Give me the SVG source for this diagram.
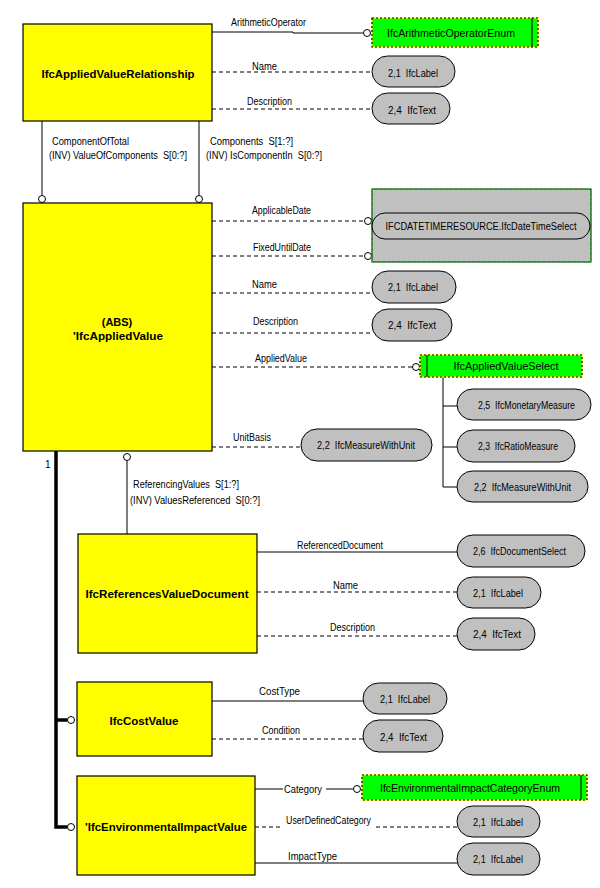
<svg xmlns="http://www.w3.org/2000/svg" width="600" height="888" viewBox="0 0 600 888">
<style>
text{font-family:"Liberation Sans",Arial,sans-serif;font-size:10px;fill:#000;white-space:pre}
.b{font-weight:bold;font-size:11px;text-anchor:middle}
.m{text-anchor:middle}
.ent{fill:#ffff00;stroke:#000;stroke-width:1.2}
.ov{fill:#c0c0c0;stroke:#000;stroke-width:1}
.en{fill:#00ff00;stroke:#ffff00;stroke-width:1.2}
.end{fill:none;stroke:#000;stroke-width:1.2;stroke-dasharray:2,2}
.s{stroke:#000;stroke-width:1;fill:none}
.d{stroke:#000;stroke-width:1;fill:none;stroke-dasharray:4,3}
.t{stroke:#000;stroke-width:3.5;fill:none}
.c{fill:#fff;stroke:#000;stroke-width:1}
</style>
<rect width="600" height="888" fill="#fff"/>
<g id="connectors">
<path class="s" d="M212,32 H293 V33 H363"/>
<circle class="c" cx="367" cy="33" r="3.5"/>
<line class="d" x1="212" y1="72" x2="372" y2="72"/>
<line class="d" x1="212" y1="109" x2="372" y2="109"/>
<line class="s" x1="42" y1="121" x2="42" y2="195.5"/>
<circle class="c" cx="42" cy="199" r="3.5"/>
<line class="s" x1="199" y1="121" x2="199" y2="195.5"/>
<circle class="c" cx="199" cy="199" r="3.5"/>
<line class="d" x1="212" y1="221" x2="364" y2="221"/>
<circle class="c" cx="368" cy="221" r="3.5"/>
<line class="d" x1="212" y1="256" x2="364" y2="256"/>
<circle class="c" cx="368" cy="256" r="3.5"/>
<line class="d" x1="212" y1="293" x2="372" y2="293"/>
<line class="d" x1="212" y1="333" x2="372" y2="333"/>
<line class="d" x1="212" y1="367" x2="412" y2="367"/>
<circle class="c" cx="416" cy="367" r="3.5"/>
<path class="s" d="M443,377 V487 H457 M443,406 H457 M443,447 H457"/>
<line class="d" x1="212" y1="447" x2="301" y2="447"/>
<line class="s" x1="127" y1="460.5" x2="127" y2="534"/>
<circle class="c" cx="127" cy="457" r="3.5"/>
<path class="t" d="M56,451 V827 H67.5 M56,720 H67.5"/>
<circle class="c" cx="71" cy="720" r="3.5"/>
<circle class="c" cx="71" cy="827" r="3.5"/>
<line class="s" x1="257" y1="552" x2="457" y2="552"/>
<line class="d" x1="257" y1="592" x2="457" y2="592"/>
<line class="d" x1="257" y1="636" x2="457" y2="636"/>
<line class="s" x1="212" y1="701" x2="363" y2="701"/>
<line class="d" x1="212" y1="739" x2="363" y2="739"/>
<path class="s" d="M255,789 H283 M326,789 H353.5"/>
<circle class="c" cx="357" cy="789" r="3.5"/>
<path class="d" d="M255,827 H283 M376,827 H457"/>
<line class="s" x1="255" y1="863" x2="457" y2="863"/>
<text x="231" y="26" textLength="75" lengthAdjust="spacingAndGlyphs">ArithmeticOperator</text>
<text x="252" y="70" textLength="25" lengthAdjust="spacingAndGlyphs">Name</text>
<text x="247" y="105" textLength="45" lengthAdjust="spacingAndGlyphs">Description</text>
<text x="52" y="145" textLength="77" lengthAdjust="spacingAndGlyphs">ComponentOfTotal</text>
<text x="49" y="159" textLength="138" lengthAdjust="spacingAndGlyphs">(INV) ValueOfComponents  S[0:?]</text>
<text x="210" y="145" textLength="83" lengthAdjust="spacingAndGlyphs">Components  S[1:?]</text>
<text x="206" y="159" textLength="116" lengthAdjust="spacingAndGlyphs">(INV) IsComponentIn  S[0:?]</text>
<text x="252" y="214" textLength="59" lengthAdjust="spacingAndGlyphs">ApplicableDate</text>
<text x="253" y="251" textLength="58" lengthAdjust="spacingAndGlyphs">FixedUntilDate</text>
<text x="252" y="288" textLength="25" lengthAdjust="spacingAndGlyphs">Name</text>
<text x="253" y="325" textLength="45" lengthAdjust="spacingAndGlyphs">Description</text>
<text x="255" y="362" textLength="52" lengthAdjust="spacingAndGlyphs">AppliedValue</text>
<text x="233" y="441" textLength="38" lengthAdjust="spacingAndGlyphs">UnitBasis</text>
<text x="45" y="468">1</text>
<text x="133" y="488" textLength="106" lengthAdjust="spacingAndGlyphs">ReferencingValues  S[1:?]</text>
<text x="130" y="504" textLength="130" lengthAdjust="spacingAndGlyphs">(INV) ValuesReferenced  S[0:?]</text>
<text x="297" y="549" textLength="86" lengthAdjust="spacingAndGlyphs">ReferencedDocument</text>
<text x="333" y="589" textLength="25" lengthAdjust="spacingAndGlyphs">Name</text>
<text x="330" y="631" textLength="45" lengthAdjust="spacingAndGlyphs">Description</text>
<text x="259" y="695" textLength="41" lengthAdjust="spacingAndGlyphs">CostType</text>
<text x="262" y="734" textLength="38" lengthAdjust="spacingAndGlyphs">Condition</text>
<text x="284" y="793" textLength="38" lengthAdjust="spacingAndGlyphs">Category</text>
<text x="286" y="824" textLength="85" lengthAdjust="spacingAndGlyphs">UserDefinedCategory</text>
<text x="288" y="860" textLength="49" lengthAdjust="spacingAndGlyphs">ImpactType</text>
</g>
<g id="IfcAppliedValueRelationship">
<rect class="ent" x="23" y="24" width="189" height="97"/>
<text class="b" x="118" y="78" textLength="153" lengthAdjust="spacingAndGlyphs">IfcAppliedValueRelationship</text>
</g>
<g id="IfcArithmeticOperatorEnum">
<rect class="en" x="372" y="18" width="166" height="29"/>
<rect class="end" x="372" y="18" width="166" height="29"/>
<line class="s" x1="532" y1="18" x2="532" y2="47"/>
<text class="m" x="451" y="37" textLength="128" lengthAdjust="spacingAndGlyphs">IfcArithmeticOperatorEnum</text>
</g>
<g id="IfcLabel1">
<rect class="ov" x="372" y="56" width="83" height="31" rx="15.5"/>
<text x="388" y="77" textLength="50" lengthAdjust="spacingAndGlyphs">2,1  IfcLabel</text>
</g>
<g id="IfcText1">
<rect class="ov" x="372" y="93" width="78" height="31" rx="15.5"/>
<text x="388" y="114" textLength="48" lengthAdjust="spacingAndGlyphs">2,4  IfcText</text>
</g>
<g id="IfcAppliedValue">
<rect class="ent" x="23" y="203" width="189" height="248"/>
<text class="b" x="117" y="326">(ABS)</text>
<text class="b" x="118" y="340" textLength="90" lengthAdjust="spacingAndGlyphs">'IfcAppliedValue</text>
</g>
<g id="IfcDateTimeSelect">
<rect x="372" y="189" width="219" height="73" fill="#c0c0c0" stroke="#000" stroke-width="1"/>
<rect x="372" y="189" width="219" height="73" fill="none" stroke="#00e000" stroke-width="1" stroke-dasharray="3,2"/>
<rect class="ov" x="372" y="213" width="218" height="26" rx="13"/>
<text class="m" x="481" y="230" textLength="191" lengthAdjust="spacingAndGlyphs">IFCDATETIMERESOURCE.IfcDateTimeSelect</text>
</g>
<g id="IfcLabel2">
<rect class="ov" x="372" y="271" width="84" height="32" rx="16"/>
<text x="388" y="291" textLength="50" lengthAdjust="spacingAndGlyphs">2,1  IfcLabel</text>
</g>
<g id="IfcText2">
<rect class="ov" x="372" y="309" width="80" height="32" rx="16"/>
<text x="388" y="329" textLength="48" lengthAdjust="spacingAndGlyphs">2,4  IfcText</text>
</g>
<g id="IfcAppliedValueSelect">
<rect class="en" x="420" y="355" width="162" height="22"/>
<rect class="end" x="420" y="355" width="162" height="22"/>
<line class="s" x1="427" y1="355" x2="427" y2="377"/>
<text class="m" x="506" y="370" textLength="105" lengthAdjust="spacingAndGlyphs">IfcAppliedValueSelect</text>
</g>
<g id="IfcMonetaryMeasure">
<rect class="ov" x="457" y="389" width="134" height="31" rx="15.5"/>
<text x="478" y="409" textLength="97" lengthAdjust="spacingAndGlyphs">2,5  IfcMonetaryMeasure</text>
</g>
<g id="IfcRatioMeasure">
<rect class="ov" x="457" y="430" width="118" height="32" rx="16"/>
<text x="478" y="450" textLength="80" lengthAdjust="spacingAndGlyphs">2,3  IfcRatioMeasure</text>
</g>
<g id="IfcMeasureWithUnit2">
<rect class="ov" x="457" y="471" width="131" height="31" rx="15.5"/>
<text x="474" y="491" textLength="97" lengthAdjust="spacingAndGlyphs">2,2  IfcMeasureWithUnit</text>
</g>
<g id="IfcMeasureWithUnit1">
<rect class="ov" x="301" y="429" width="131" height="32" rx="16"/>
<text x="317" y="449" textLength="98" lengthAdjust="spacingAndGlyphs">2,2  IfcMeasureWithUnit</text>
</g>
<g id="IfcReferencesValueDocument">
<rect class="ent" x="78" y="534" width="179" height="119"/>
<text class="b" x="167" y="598" textLength="163" lengthAdjust="spacingAndGlyphs">IfcReferencesValueDocument</text>
</g>
<g id="IfcDocumentSelect">
<rect class="ov" x="457" y="535" width="128" height="32" rx="16"/>
<text x="473" y="555" textLength="93" lengthAdjust="spacingAndGlyphs">2,6  IfcDocumentSelect</text>
</g>
<g id="IfcLabel3">
<rect class="ov" x="457" y="577" width="84" height="31" rx="15.5"/>
<text x="473" y="597" textLength="50" lengthAdjust="spacingAndGlyphs">2,1  IfcLabel</text>
</g>
<g id="IfcText3">
<rect class="ov" x="457" y="618" width="78" height="32" rx="16"/>
<text x="473" y="638" textLength="48" lengthAdjust="spacingAndGlyphs">2,4  IfcText</text>
</g>
<g id="IfcCostValue">
<rect class="ent" x="77" y="682" width="135" height="74"/>
<text class="b" x="144" y="725" textLength="69" lengthAdjust="spacingAndGlyphs">IfcCostValue</text>
</g>
<g id="IfcLabel4">
<rect class="ov" x="363" y="683" width="84" height="31" rx="15.5"/>
<text x="380" y="703" textLength="50" lengthAdjust="spacingAndGlyphs">2,1  IfcLabel</text>
</g>
<g id="IfcText4">
<rect class="ov" x="363" y="720" width="80" height="32" rx="16"/>
<text x="380" y="741" textLength="47" lengthAdjust="spacingAndGlyphs">2,4  IfcText</text>
</g>
<g id="IfcEnvironmentalImpactValue">
<rect class="ent" x="77" y="776" width="178" height="99"/>
<text class="b" x="166" y="831" textLength="162" lengthAdjust="spacingAndGlyphs">'IfcEnvironmentalImpactValue</text>
</g>
<g id="IfcEnvironmentalImpactCategoryEnum">
<rect class="en" x="362" y="775" width="225" height="25"/>
<rect class="end" x="362" y="775" width="225" height="25"/>
<line class="s" x1="581" y1="775" x2="581" y2="800"/>
<text class="m" x="470" y="792" textLength="180" lengthAdjust="spacingAndGlyphs">IfcEnvironmentalImpactCategoryEnum</text>
</g>
<g id="IfcLabel5">
<rect class="ov" x="457" y="806" width="83" height="31" rx="15.5"/>
<text x="473" y="826" textLength="50" lengthAdjust="spacingAndGlyphs">2,1  IfcLabel</text>
</g>
<g id="IfcLabel6">
<rect class="ov" x="457" y="843" width="83" height="32" rx="16"/>
<text x="473" y="863" textLength="50" lengthAdjust="spacingAndGlyphs">2,1  IfcLabel</text>
</g>
</svg>
